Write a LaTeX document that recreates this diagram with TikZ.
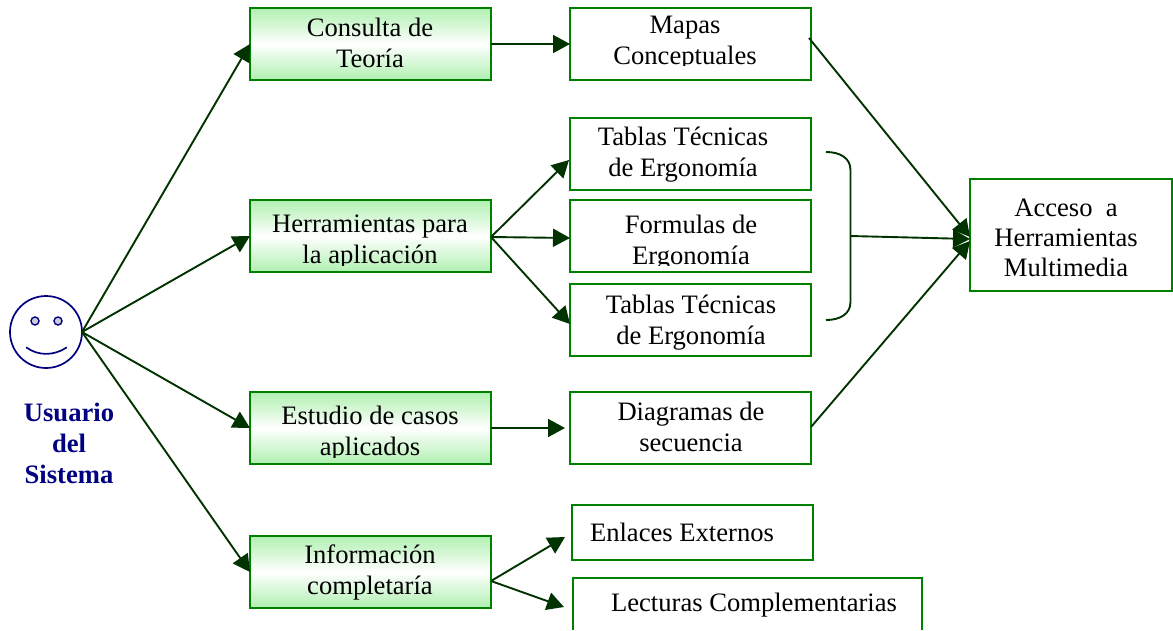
\documentclass[tikz,border=0pt]{standalone}
\usepackage{fontspec}
\setmainfont{Liberation Serif}
\usetikzlibrary{arrows.meta}
\definecolor{boxgreen}{RGB}{0,128,0}
\definecolor{linegreen}{RGB}{0,51,0}
\definecolor{lightgreen}{RGB}{176,240,176}
\definecolor{facenavy}{RGB}{0,0,128}
\definecolor{eyegrey}{RGB}{204,204,221}
\tikzset{
  x=1pt,y=-1pt,
  greenbox/.style={draw=boxgreen,line width=2.8pt,inner sep=0pt,outer sep=0pt,minimum width=241pt,minimum height=72pt,
    top color=lightgreen,bottom color=lightgreen,middle color=white},
  whitebox/.style={draw=boxgreen,line width=1.9pt,inner sep=0pt,outer sep=0pt,fill=white},
  label/.style={font=\fontsize{26.6}{31}\selectfont,align=center,inner sep=0pt,text=black},
  userlabel/.style={font=\fontsize{26.6}{31}\selectfont\bfseries,align=center,inner sep=0pt,text=facenavy},
  conn/.style={draw=linegreen,line width=1.9pt,-{Triangle[length=17pt,width=18pt]}},
  connthin/.style={draw=linegreen,line width=1.9pt},
  face/.style={draw=facenavy,line width=1.7pt},
}
\begin{document}
\begin{tikzpicture}
\useasboundingbox (0,0) rectangle (1173,630);
% boxes
\node[greenbox] (consulta) at (370.5,44) {};
\node[greenbox] (herram) at (370.5,236) {};
\node[greenbox] (estudio) at (370.5,428) {};
\node[greenbox] (info) at (370.5,572) {};
\node[whitebox,minimum width=241pt,minimum height=72pt] (mapas) at (690.5,44) {};
\node[whitebox,minimum width=241pt,minimum height=72pt] (tablasa) at (690.5,154) {};
\node[whitebox,minimum width=241pt,minimum height=72pt] (formulas) at (690.5,236) {};
\node[whitebox,minimum width=241pt,minimum height=72pt] (tablasb) at (690.5,320) {};
\node[whitebox,minimum width=241pt,minimum height=72pt] (diagramas) at (690.5,428) {};
\node[whitebox,minimum width=241pt,minimum height=55pt] (enlaces) at (692.5,532.5) {};
\node[whitebox,minimum width=202pt,minimum height=112pt] (acceso) at (1071,235) {};
\coordinate (lecnw) at (572.5,630);
\coordinate (lecsw) at (572.5,578);
\coordinate (lecse) at (922,578);
\coordinate (lecne) at (922,630);
\draw[draw=boxgreen,line width=2pt] (lecnw) -- (lecsw) -- (lecse) -- (lecne);
% texts
\node[label] (t1) at (370,43) {Consulta de\\Teoría};
\begin{scope}
\clip (250,205) rectangle (491,265);
\node[label] (t2) at (370,242.5) {Herramientas para\\la aplicación};
\end{scope}
\begin{scope}
\clip (250,397) rectangle (491,457);
\node[label] (t3) at (370,434) {Estudio de casos\\aplicados};
\end{scope}
\node[label] (t4) at (370,572) {Información\\completaría};
\begin{scope}
\clip (572,10) rectangle (809,65);
\node[label] (t5) at (685,43) {Mapas\\Conceptuales};
\end{scope}
\node[label] (t6) at (683,155) {Tablas Técnicas\\de Ergonomía};
\begin{scope}
\clip (572,202) rectangle (809,265);
\node[label] (t7) at (691,242.5) {Formulas de\\Ergonomía};
\end{scope}
\node[label] (t8) at (691,323) {Tablas Técnicas\\de Ergonomía};
\node[label] (t9) at (691,427) {Diagramas de\\secuencia};
\node[label] (t10) at (682,532) {Enlaces Externos};
\node[label] (t11) at (754,605) {Lecturas Complementarias};
\node[label,font=\fontsize{26.6}{30}\selectfont] (t12) at (1066,238) {Acceso\ \ a\\Herramientas\\Multimedia};
\node[userlabel] (user) at (69,443) {Usuario\\del\\Sistema};
% face
\node[face,circle,minimum size=72pt,inner sep=0pt,outer sep=0pt] (smiley) at (46,332) {};
\node[face,circle,minimum size=8pt,inner sep=0pt,fill=eyegrey,line width=1.4pt] (eyeL) at (35,321) {};
\node[face,circle,minimum size=8pt,inner sep=0pt,fill=eyegrey,line width=1.4pt] (eyeR) at (58,321) {};
\coordinate (smileL) at (26.5,347.5);
\coordinate (smileR) at (66.5,347.5);
\draw[face,line cap=round] (smileL) .. controls (38,356) and (54,356) .. (smileR);
% connectors from the face
\draw[conn] (smiley.east) -- (consulta.west);
\draw[conn] (smiley.east) -- (herram.west);
\draw[conn] (smiley.east) -- (estudio.west);
\draw[conn] (smiley.east) -- (info.west);
% connectors middle
\draw[conn] (consulta.east) -- (mapas.west);
\coordinate (hstart) at (491,237);
\coordinate (tablasaT) at (569,160);
\coordinate (formT) at (570,238);
\coordinate (tablasbT) at (570,324);
\draw[conn] (hstart) -- (tablasaT);
\draw[conn] (hstart) -- (formT);
\draw[conn] (hstart) -- (tablasbT);
\coordinate (diagT) at (565,428);
\draw[conn] (estudio.east) -- (diagT);
\coordinate (istart) at (491,581);
\coordinate (enlT) at (565,537);
\coordinate (lecT) at (564,607);
\draw[conn] (istart) -- (enlT);
\draw[conn] (istart) -- (lecT);
% bracket
\coordinate (brT) at (826,152);
\coordinate (brB) at (826,320);
\coordinate (brM) at (850.5,236);
\draw[connthin] (brT) .. controls (840,152) and (850.5,158) .. (850.5,170) -- (850.5,302) .. controls (850.5,314) and (840,320) .. (brB);
% connectors to Acceso
\coordinate (mapasE) at (809,38);
\coordinate (diagE) at (811,427);
\coordinate (aT) at (970,237);
\coordinate (aM) at (970,239);
\coordinate (aB) at (970,241);
\draw[conn] (mapasE) -- (aT);
\draw[conn] (brM) -- (aM);
\draw[conn] (diagE) -- (aB);
\end{tikzpicture}
\end{document}
